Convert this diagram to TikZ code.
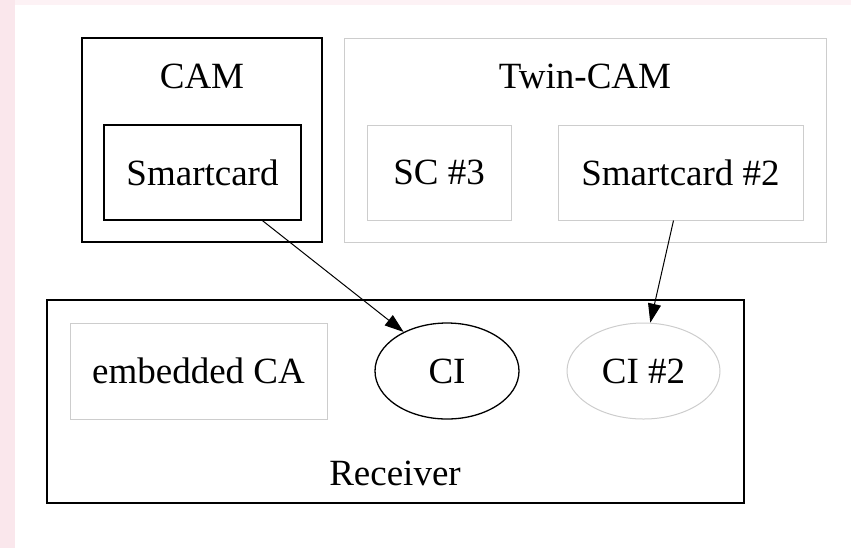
\documentclass[tikz,border=0pt]{standalone}
\usepackage{fontspec}
\setmainfont{Liberation Serif}
\usetikzlibrary{arrows.meta,shapes.geometric}

\definecolor{stripe}{RGB}{250,231,236}
\definecolor{topband}{RGB}{253,242,245}
\definecolor{lgray}{RGB}{205,205,205}

\def\px{0.5pt}

\tikzset{
  lbl/.style={font=\fontsize{18.5}{22}\selectfont},
  box/.style={draw,line width=0.65pt,inner sep=0pt,lbl},
  ghost/.style={draw=lgray,line width=0.5pt,inner sep=0pt,lbl},
  link/.style={line width=0.5pt,-{Triangle[length=9.5pt,width=6.5pt]}}
}

\begin{document}
\begin{tikzpicture}[x=0.5pt,y=-0.5pt]
\useasboundingbox (0,0) rectangle (851,548);

% page background
\fill[topband] (0,0) rectangle (851,5);
\fill[stripe] (0,0) rectangle (15,548);

% CAM cluster
\node[box,minimum width=240*\px,minimum height=204*\px] (cam) at (202,140) {};
\node[lbl] (camlbl) at (202,76) {CAM};
\node[box,minimum width=197*\px,minimum height=95*\px] (smart) at (202.5,172.5) {Smartcard};

% Twin-CAM cluster
\node[ghost,minimum width=482*\px,minimum height=204*\px] (twin) at (585,140) {};
\node[lbl] (twinlbl) at (585,76) {Twin-CAM};
\node[ghost,minimum width=144*\px,minimum height=95*\px] (sc3) at (439,172.5) {SC \#3};
\node[ghost,minimum width=245*\px,minimum height=95*\px] (smart2) at (680.5,172.5) {Smartcard \#2};

% Receiver cluster
\node[box,minimum width=697*\px,minimum height=203*\px] (recv) at (395.5,401.5) {};
\node[lbl] (recvlbl) at (395,473) {Receiver};
\node[ghost,minimum width=257*\px,minimum height=96*\px] (emb) at (198.5,371) {embedded CA};
\node[box,ellipse,minimum width=144*\px,minimum height=96*\px] (ci) at (447,371) {CI};
\node[ghost,ellipse,minimum width=153*\px,minimum height=96*\px] (ci2) at (643.5,371) {CI \#2};

\coordinate (s1) at ([xshift=60*\px]smart.south);
\coordinate (s2) at ([xshift=-7*\px]smart2.south);

\draw[link] (s1)--(ci.138);
\draw[link] (s2)--(ci2.82);

\end{tikzpicture}
\end{document}
